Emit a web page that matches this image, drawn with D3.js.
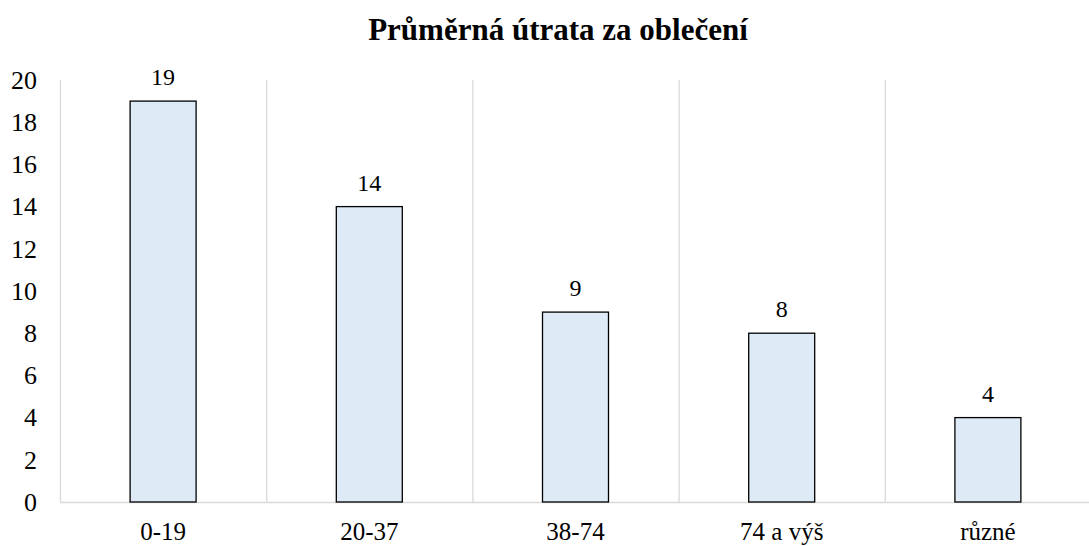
<!DOCTYPE html>
<html><head><meta charset="utf-8">
<script src="https://cdn.jsdelivr.net/npm/d3@7"></script>
<style>body{margin:0;background:#fff}svg{display:block}</style>
</head><body><svg id="c" width="1089" height="546"></svg>
<script>
const categories = ["0-19","20-37","38-74","74 a výš","různé"];
const values = [19,14,9,8,4];
const yTicks = [0,2,4,6,8,10,12,14,16,18,20];
const title = "Průměrná útrata za oblečení";

const svg = d3.select("#c");
const W=1089,H=546;
const m={l:60,r:-2,t:80,b:44};
const x=d3.scaleBand().domain(categories).range([m.l,W-m.r]).paddingInner(0).paddingOuter(0);
const y=d3.scaleLinear().domain([0,20]).range([H-m.b,m.t]);
const font="'Liberation Serif','Times New Roman',serif";

svg.append("text").attr("x",558).attr("y",40).attr("text-anchor","middle")
 .attr("font-family",font).attr("font-weight","bold").attr("font-size",31).text(title);

const bounds=categories.map(c=>x(c)).concat([x(categories[categories.length-1])+x.bandwidth()]);
svg.selectAll(".g").data(bounds).enter().append("line")
 .attr("x1",d=>d+0.5).attr("x2",d=>d+0.5).attr("y1",y(20)).attr("y2",y(0))
 .attr("stroke","#d9d9d9").attr("stroke-width",1.3);
svg.append("line").attr("x1",m.l).attr("x2",W-m.r).attr("y1",y(0)+0.5).attr("y2",y(0)+0.5)
 .attr("stroke","#d9d9d9").attr("stroke-width",1.5);

const yAxis=d3.axisLeft(y).tickValues(yTicks).tickSize(0).tickPadding(0);
const ya=svg.append("g").attr("transform",`translate(37,0)`).call(yAxis);
ya.select(".domain").remove();
ya.selectAll("text").attr("font-family",font).attr("font-size",26).attr("fill","#000").attr("dy","0.32em");

const xAxis=d3.axisBottom(x).tickSize(0).tickPadding(0);
const xa=svg.append("g").attr("transform",`translate(0,${y(0)})`).call(xAxis);
xa.select(".domain").remove();
xa.selectAll("text").attr("font-family",font).attr("font-size",25).attr("fill","#000").attr("dy",0).attr("y",38);

const bw=x.bandwidth()*0.32;
svg.selectAll(".bar").data(values).enter().append("rect")
 .attr("x",(d,i)=>x(categories[i])+x.bandwidth()/2-bw/2)
 .attr("y",d=>y(d)).attr("width",bw).attr("height",d=>y(0)-y(d))
 .attr("fill","#deebf7").attr("stroke","#000").attr("stroke-width",1.3);

svg.selectAll(".lbl").data(values).enter().append("text")
 .attr("x",(d,i)=>x(categories[i])+x.bandwidth()/2).attr("y",d=>y(d)-16)
 .attr("text-anchor","middle").attr("font-family",font).attr("font-size",24).text(d=>d);
</script></body></html>
